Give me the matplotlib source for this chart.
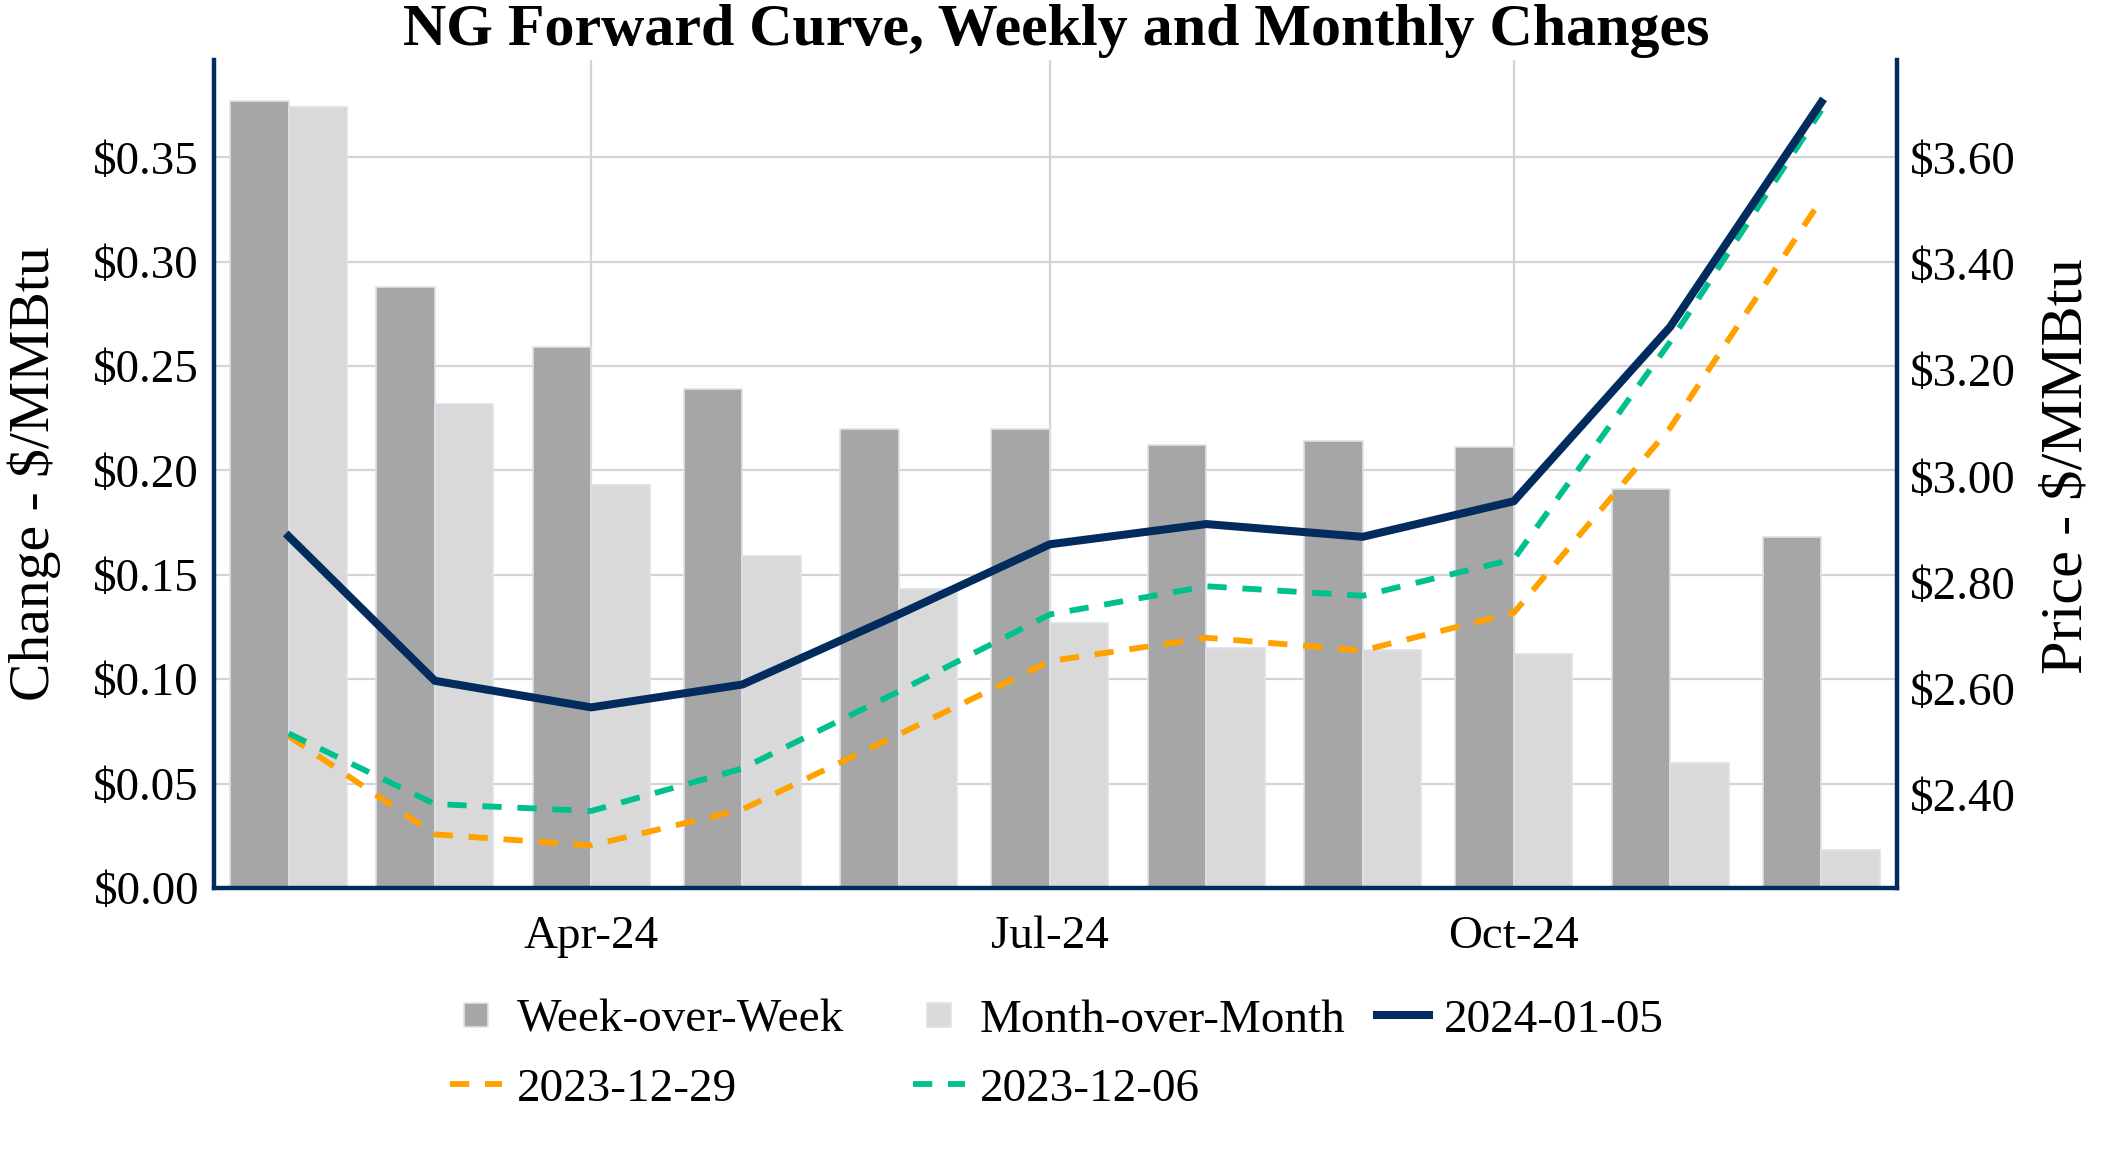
import matplotlib
matplotlib.use("Agg")
import matplotlib.pyplot as plt
import matplotlib.dates as mdates
from matplotlib.lines import Line2D
from matplotlib.ticker import FuncFormatter, FixedLocator
import datetime as dt
import numpy as np

# ---- data ----
months = ["2024-02-01", "2024-03-01", "2024-04-01", "2024-05-01", "2024-06-01", "2024-07-01",
          "2024-08-01", "2024-09-01", "2024-10-01", "2024-11-01", "2024-12-01"]
week_over_week = [0.377, 0.288, 0.259, 0.239, 0.220, 0.220, 0.212, 0.214, 0.211, 0.191, 0.168]
month_over_month = [0.374, 0.232, 0.193, 0.159, 0.143, 0.127, 0.115, 0.114, 0.112, 0.060, 0.018]
curve_2024_01_05 = [2.887, 2.615, 2.565, 2.608, 2.740, 2.872, 2.910, 2.886, 2.953, 3.281, 3.704]
curve_2023_12_29 = [2.511, 2.326, 2.305, 2.373, 2.514, 2.652, 2.696, 2.672, 2.743, 3.091, 3.521]
curve_2023_12_06 = [2.516, 2.383, 2.370, 2.450, 2.595, 2.740, 2.793, 2.775, 2.844, 3.253, 3.689]
left_ticks = [0.00, 0.05, 0.10, 0.15, 0.20, 0.25, 0.30, 0.35]
right_ticks = [2.40, 2.60, 2.80, 3.00, 3.20, 3.40, 3.60]
x_tick_dates = ["2024-04-01", "2024-07-01", "2024-10-01"]

# ---- style ----
plt.rcParams['font.family'] = ['Liberation Serif', 'DejaVu Serif']
NAVY = '#022B5E'
ORANGE = '#FFA200'
GREEN = '#00C08D'
DARK = '#A6A6A6'
LIGHT = '#D9D9D9'
EDGE = '#DCE2EC'
GRID = '#D4D4D4'

W, H = 2112, 1152
fig = plt.figure(figsize=(W / 100, H / 100), dpi=100)
L, R, T, B = 214, 1897, 60, 888
ax = fig.add_axes([L / W, 1 - B / H, (R - L) / W, (B - T) / H])
ax2 = ax.twinx()

x = mdates.date2num([dt.datetime.strptime(m, "%Y-%m-%d") for m in months])
bw = 11.6
ax.bar(x - bw / 2, week_over_week, width=bw, color=DARK, edgecolor=EDGE, linewidth=1.2, zorder=2)
ax.bar(x + bw / 2, month_over_month, width=bw, color=LIGHT, edgecolor=EDGE, linewidth=1.2, zorder=2)

lw_solid = 5.8
lw_dash = 4.2
dash_pat = (3.3, 2.7)
ax2.plot(x, curve_2023_12_29, color=ORANGE, lw=lw_dash, dashes=dash_pat, zorder=3)
ax2.plot(x, curve_2023_12_06, color=GREEN, lw=lw_dash, dashes=dash_pat, zorder=3)
ax2.plot(x, curve_2024_01_05, color=NAVY, lw=lw_solid, zorder=4)

ax.set_xlim(x[0] - 14.8, x[-1] + 15.0)
ax.set_ylim(0, 0.3966)
ax2.set_ylim(2.225, 3.7835)

ax.yaxis.set_major_locator(FixedLocator(left_ticks))
ax.yaxis.set_major_formatter(FuncFormatter(lambda v, p: f"${v:.2f}"))
ax2.yaxis.set_major_locator(FixedLocator(right_ticks))
ax2.yaxis.set_major_formatter(FuncFormatter(lambda v, p: f"${v:.2f}"))
xt = mdates.date2num([dt.datetime.strptime(d, "%Y-%m-%d") for d in x_tick_dates])
ax.xaxis.set_major_locator(FixedLocator(xt))
ax.xaxis.set_major_formatter(mdates.DateFormatter('%b-%y'))

ax.grid(True, color=GRID, lw=1.6, zorder=0)
ax.set_axisbelow(True)
ax2.grid(False)

tick_fs = 33.8
ax.tick_params(axis='y', length=0, pad=10.8, labelsize=tick_fs)
ax.tick_params(axis='x', length=0, pad=20, labelsize=tick_fs)
ax2.tick_params(axis='y', length=0, pad=9.4, labelsize=tick_fs)

for a in (ax, ax2):
    a.spines['top'].set_visible(False)
    for s in ('left', 'right', 'bottom'):
        a.spines[s].set_color(NAVY)
        a.spines[s].set_linewidth(3.2)
ax.spines['right'].set_visible(False)
ax2.spines['left'].set_visible(False)
ax2.spines['bottom'].set_visible(False)

ax.set_ylabel("Change - $/MMBtu", fontsize=41.5, va='center')
ax.yaxis.set_label_coords((34 - L) / (R - L), 0.5)
ax2.set_ylabel("Price - $/MMBtu", fontsize=43.5, va='center', rotation=90)
ax2.yaxis.set_label_coords((2068 - L) / (R - L), 0.509)

fig.text(0.5, 1 - 44.5 / H, "NG Forward Curve, Weekly and Monthly Changes",
         ha='center', va='baseline', fontsize=43.2, fontweight='bold')

# ---- legend ----
leg_fs = 33.9
h_wow = Line2D([], [], marker='s', ls='none', markersize=17, mfc=DARK, mec=EDGE, mew=1.2)
h_mom = Line2D([], [], marker='s', ls='none', markersize=17, mfc=LIGHT, mec=EDGE, mew=1.2)
h_0105 = Line2D([], [], color=NAVY, lw=lw_solid)
h_1229 = Line2D([], [], color=ORANGE, lw=lw_dash, dashes=dash_pat)
h_1206 = Line2D([], [], color=GREEN, lw=lw_dash, dashes=dash_pat)
cols = [([h_wow, h_1229], ["Week-over-Week", "2023-12-29"], 450),
        ([h_mom, h_1206], ["Month-over-Month", "2023-12-06"], 913),
        ([h_0105], ["2024-01-05"], 1377)]
for hs, ls_, xpx in cols:
    fig.legend(hs, ls_, loc='upper left', bbox_to_anchor=(xpx / W, 1 - 999 / H),
               frameon=False, fontsize=leg_fs, handlelength=1.1, handletextpad=0.32,
               labelspacing=0.55, borderpad=0, borderaxespad=0)

fig.savefig("out.png", dpi=100)
